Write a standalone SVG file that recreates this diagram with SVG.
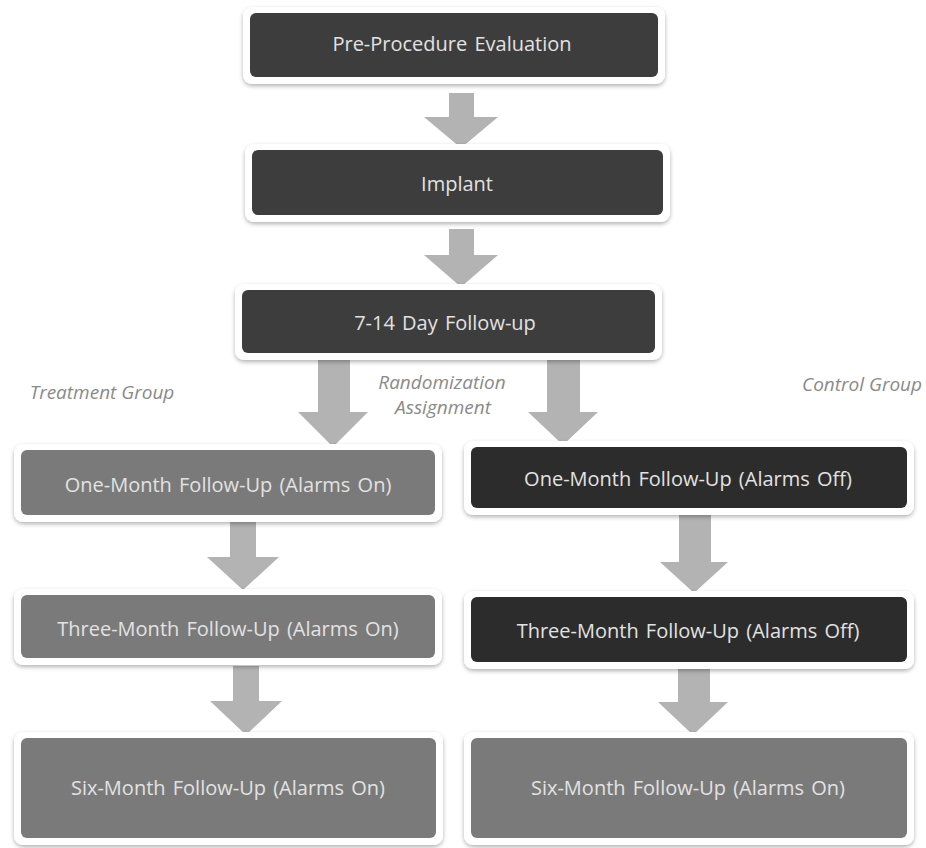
<svg xmlns="http://www.w3.org/2000/svg" width="926" height="848" viewBox="0 0 926 848">
<defs>
<filter id="sh" x="-5%" y="-20%" width="110%" height="150%">
<feDropShadow dx="0" dy="2" stdDeviation="2" flood-color="#000" flood-opacity="0.3"/>
</filter>
<style>
.frame{fill:#fff;filter:url(#sh)}
.dark{fill:#3d3d3d}
.darker{fill:#2c2c2c}
.gray{fill:#7a7a7a}
.lbl{font-family:"Open Sans","Liberation Sans",sans-serif;font-size:20px;word-spacing:2px;fill:#e2e2e2;text-anchor:middle}
.note{font-family:"Open Sans","Liberation Sans",sans-serif;font-size:19px;font-style:italic;fill:#8a8a8a;text-anchor:middle}
.arr{fill:#b3b3b3}
</style>
</defs>
<rect width="926" height="848" fill="#fff"/>
<g id="connectors">
<path class="arr" d="M449,93 H474 V117 H498 L461,148 L424,117 H449 Z"/>
<path class="arr" d="M449,229 H474 V255 H498 L461,287 L424,255 H449 Z"/>
<path class="arr" d="M318,358 H350 V412 H368 L333,447 L298,412 H318 Z"/>
<path class="arr" d="M547,358 H580 V412 H598 L563,445 L528,412 H547 Z"/>
<path class="arr" d="M230,521 H256 V557 H279 L243,590 L207,557 H230 Z"/>
<path class="arr" d="M679,515 H711 V562 H728 L694,593 L660,562 H679 Z"/>
<path class="arr" d="M233,666 H259 V701 H282 L246,735 L210,701 H233 Z"/>
<path class="arr" d="M678,669 H710 V702 H728 L693,735 L658,702 H678 Z"/>
</g>
<g id="n1">
<rect class="frame" x="243" y="7" width="422" height="77" rx="9"/>
<rect class="dark" x="250" y="13" width="408" height="64" rx="6"/>
<text class="lbl" x="452" y="51">Pre-Procedure  Evaluation</text>
</g>
<g id="n2">
<rect class="frame" x="245" y="144" width="425" height="78" rx="9"/>
<rect class="dark" x="252" y="150" width="411" height="65" rx="6"/>
<text class="lbl" x="457" y="191">Implant</text>
</g>
<g id="n3">
<rect class="frame" x="235" y="284" width="427" height="76" rx="9"/>
<rect class="dark" x="242" y="290" width="413" height="63" rx="6"/>
<text class="lbl" x="445" y="330">7-14 Day Follow-up</text>
</g>
<g id="labels">
<text class="note" x="102" y="399">Treatment Group</text>
<text class="note" x="442" y="389">Randomization</text>
<text class="note" x="443" y="414">Assignment</text>
<text class="note" x="862" y="391">Control Group</text>
</g>
<g id="l1">
<rect class="frame" x="14" y="444" width="428" height="78" rx="9"/>
<rect class="gray" x="21" y="450" width="414" height="65" rx="6"/>
<text class="lbl" x="228" y="492">One-Month Follow-Up (Alarms On)</text>
</g>
<g id="r1">
<rect class="frame" x="464" y="441" width="450" height="74" rx="9"/>
<rect class="darker" x="471" y="447" width="436" height="61" rx="6"/>
<text class="lbl" x="688" y="486">One-Month Follow-Up (Alarms  Off)</text>
</g>
<g id="l2">
<rect class="frame" x="14" y="589" width="428" height="76" rx="9"/>
<rect class="gray" x="21" y="595" width="414" height="63" rx="6"/>
<text class="lbl" x="228" y="636">Three-Month Follow-Up (Alarms On)</text>
</g>
<g id="r2">
<rect class="frame" x="464" y="591" width="450" height="78" rx="9"/>
<rect class="darker" x="471" y="597" width="436" height="65" rx="6"/>
<text class="lbl" x="688" y="638">Three-Month Follow-Up  (Alarms Off)</text>
</g>
<g id="l3">
<rect class="frame" x="14" y="732" width="429" height="113" rx="9"/>
<rect class="gray" x="21" y="738" width="415" height="100" rx="6"/>
<text class="lbl" x="228" y="795">Six-Month Follow-Up  (Alarms  On)</text>
</g>
<g id="r3">
<rect class="frame" x="464" y="732" width="450" height="113" rx="9"/>
<rect class="gray" x="471" y="738" width="436" height="100" rx="6"/>
<text class="lbl" x="688" y="795">Six-Month Follow-Up  (Alarms  On)</text>
</g>
</svg>
